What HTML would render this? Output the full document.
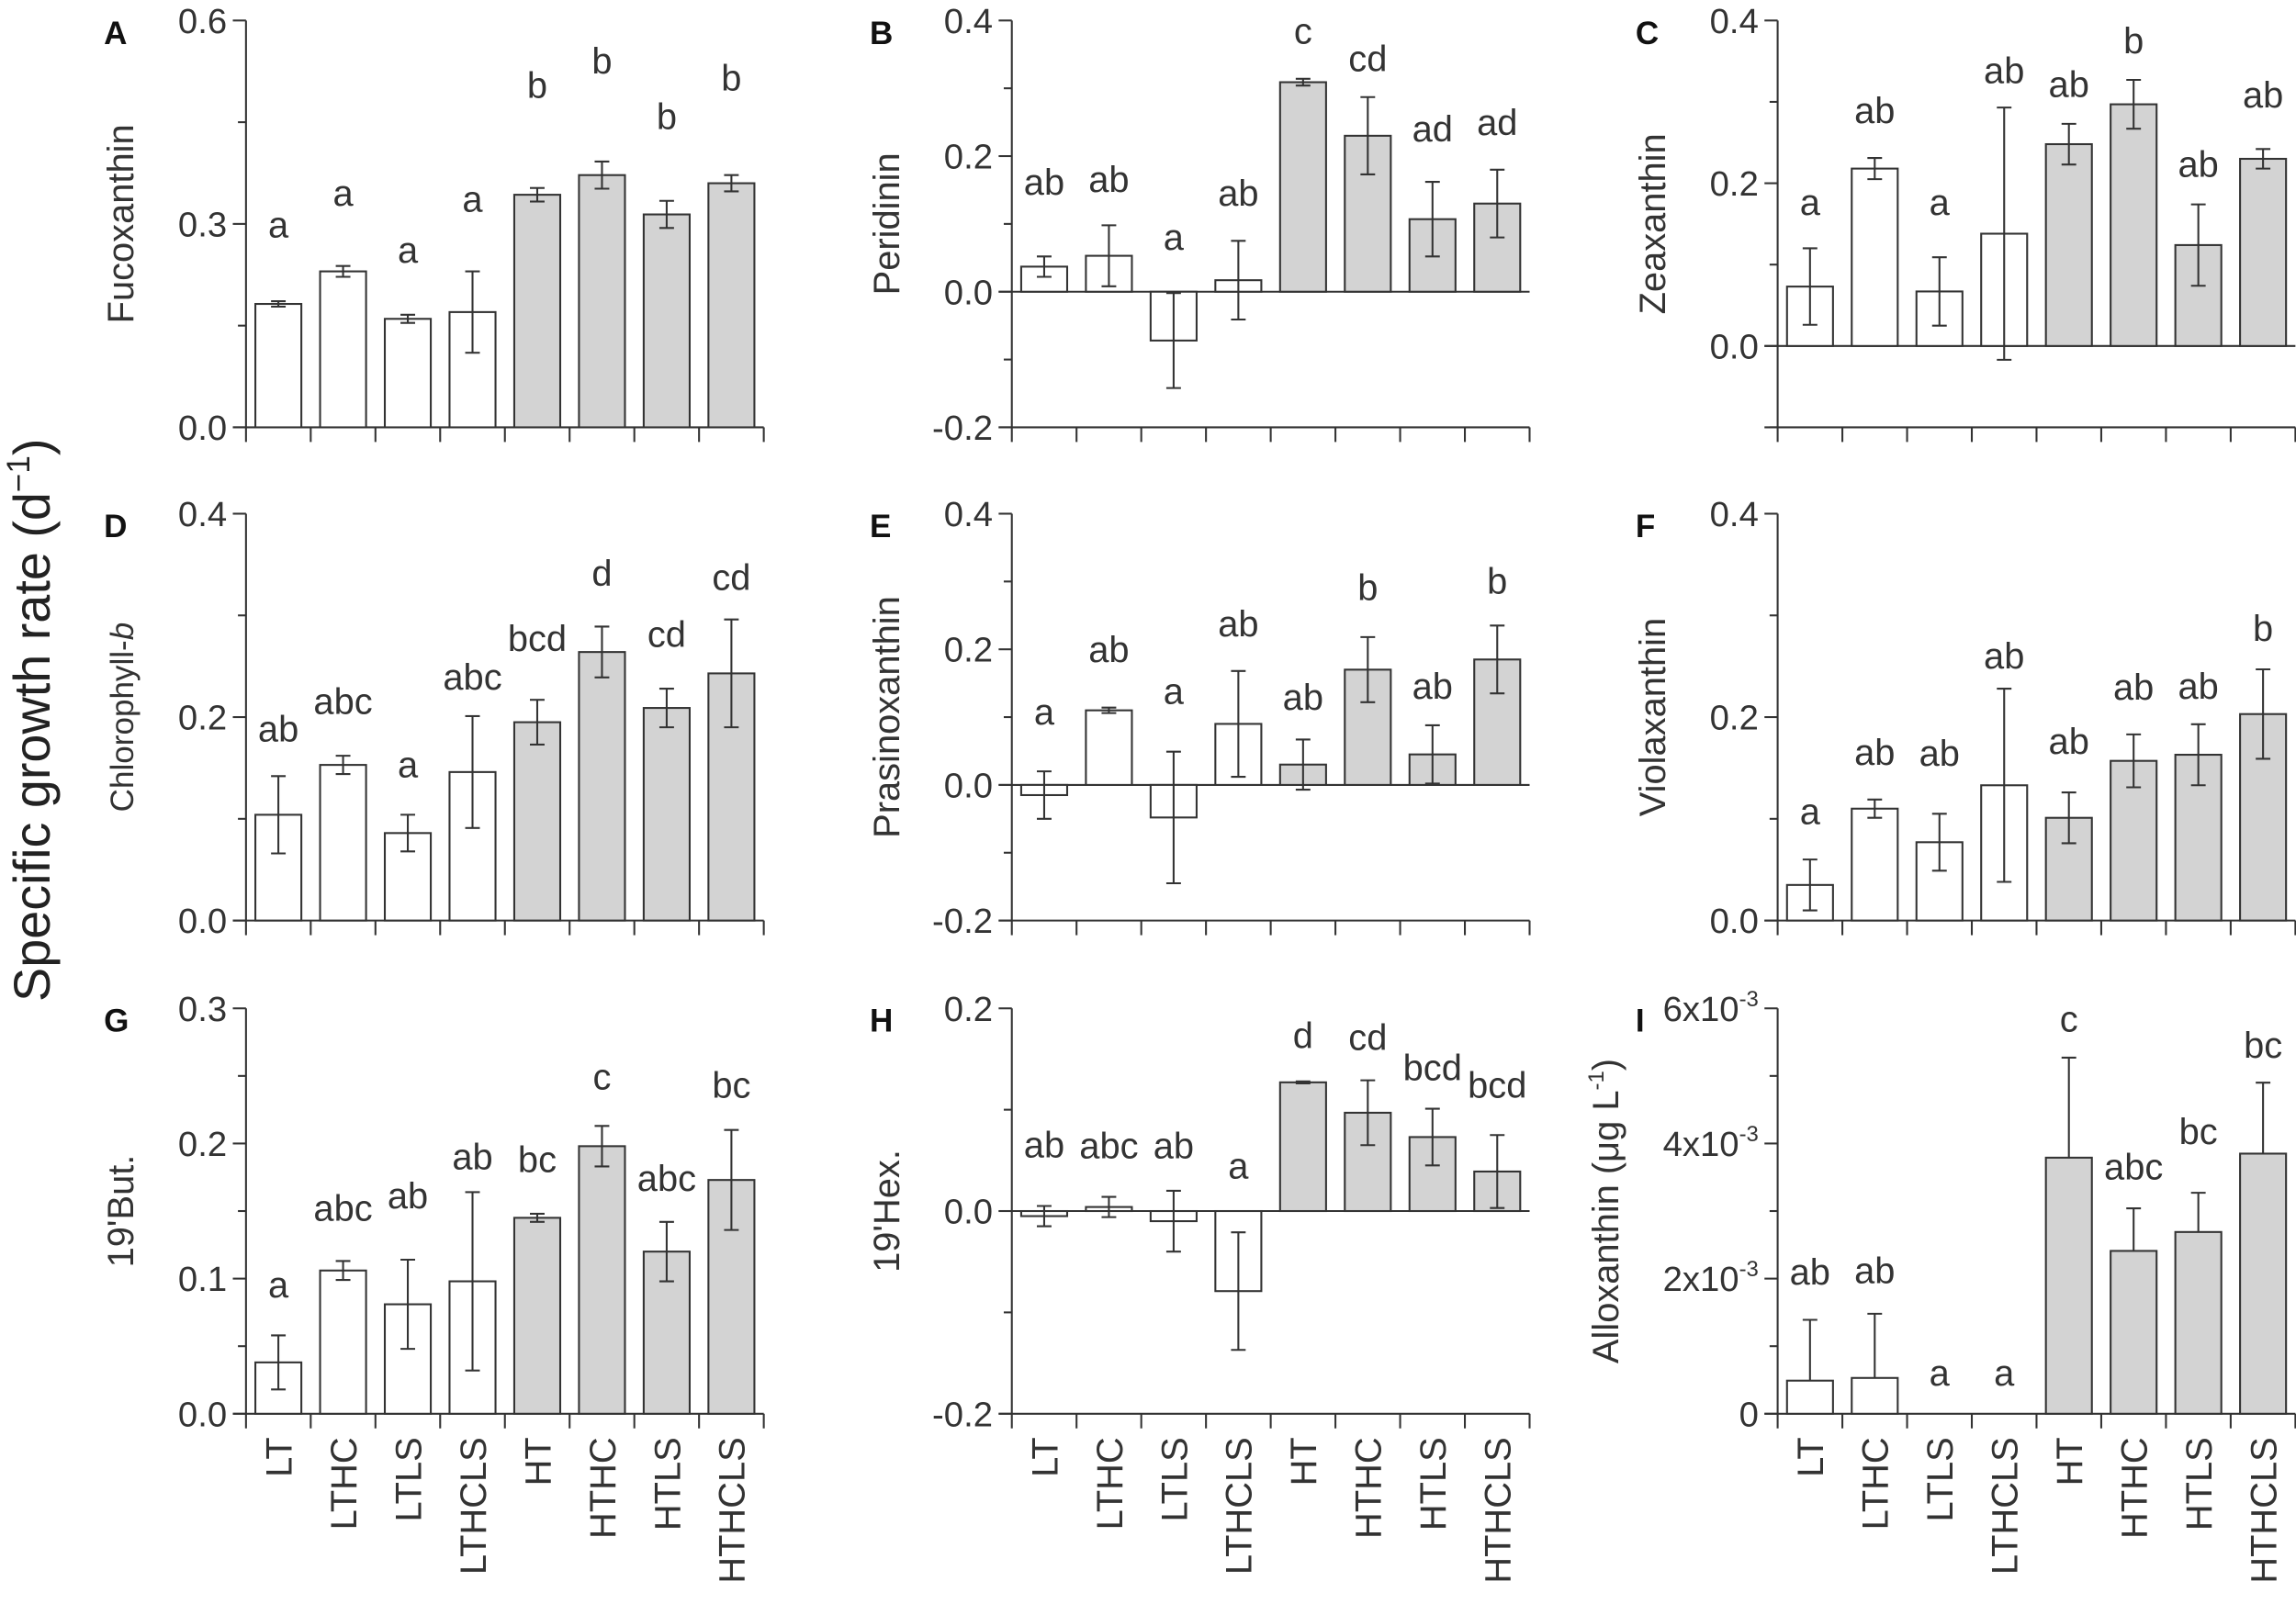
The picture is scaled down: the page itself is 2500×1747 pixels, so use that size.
<!DOCTYPE html>
<html><head><meta charset="utf-8"><style>
html,body{margin:0;padding:0;background:#fff;}
svg{display:block;font-family:"Liberation Sans",Arial,sans-serif;}
</style></head><body>
<svg id="fig" width="2500" height="1747" viewBox="0 0 1568 1096" preserveAspectRatio="none" xmlns="http://www.w3.org/2000/svg">
<rect x="0" y="0" width="1568" height="1096" fill="#fff"/>
<text transform="translate(34,492) rotate(-90)" text-anchor="middle" font-size="35" fill="#222">Specific growth rate (d<tspan font-size="22" dy="-14">−1</tspan><tspan dy="14">)</tspan></text>
</svg>
<script>
const categories = ["LT","LTHC","LTLS","LTHCLS","HT","HTHC","HTLS","HTHCLS"];
const fucoValues = [0.182,0.230,0.160,0.170,0.343,0.372,0.314,0.360];
const fucoErrors = [0.004,0.008,0.006,0.060,0.010,0.020,0.020,0.012];
const fucoLetters = ["a","a","a","a","b","b","b","b"];
const fucoLetterY = [0.280,0.327,0.243,0.318,0.486,0.522,0.440,0.497];
const periValues = [0.037,0.053,-0.072,0.017,0.309,0.230,0.107,0.130];
const periErrors = [0.015,0.045,0.070,0.058,0.005,0.057,0.055,0.050];
const periLetters = ["ab","ab","a","ab","c","cd","ad","ad"];
const periLetterY = [0.143,0.147,0.062,0.127,0.366,0.325,0.222,0.231];
const zeaValues = [0.073,0.218,0.067,0.138,0.248,0.297,0.124,0.230];
const zeaErrors = [0.047,0.013,0.042,0.155,0.025,0.030,0.050,0.012];
const zeaLetters = ["a","ab","a","ab","ab","b","ab","ab"];
const zeaLetterY = [0.161,0.274,0.161,0.323,0.306,0.360,0.208,0.293];
const chlbValues = [0.104,0.153,0.086,0.146,0.195,0.264,0.209,0.243];
const chlbErrors = [0.038,0.009,0.018,0.055,0.022,0.025,0.019,0.053];
const chlbLetters = ["ab","abc","a","abc","bcd","d","cd","cd"];
const chlbLetterY = [0.176,0.203,0.141,0.227,0.265,0.329,0.269,0.325];
const prasValues = [-0.015,0.110,-0.048,0.090,0.030,0.170,0.045,0.185];
const prasErrors = [0.035,0.004,0.097,0.078,0.037,0.048,0.043,0.050];
const prasLetters = ["a","ab","a","ab","ab","b","ab","b"];
const prasLetterY = [0.089,0.181,0.120,0.219,0.111,0.273,0.127,0.282];
const violValues = [0.035,0.110,0.077,0.133,0.101,0.157,0.163,0.203];
const violErrors = [0.025,0.009,0.028,0.095,0.025,0.026,0.030,0.044];
const violLetters = ["a","ab","ab","ab","ab","ab","ab","b"];
const violLetterY = [0.095,0.153,0.152,0.248,0.164,0.217,0.218,0.275];
const butValues = [0.038,0.106,0.081,0.098,0.145,0.198,0.120,0.173];
const butErrors = [0.020,0.007,0.033,0.066,0.003,0.015,0.022,0.037];
const butLetters = ["a","abc","ab","ab","bc","c","abc","bc"];
const butLetterY = [0.086,0.143,0.152,0.181,0.179,0.240,0.165,0.234];
const hexValues = [-0.005,0.004,-0.010,-0.079,0.127,0.097,0.073,0.039];
const hexErrors = [0.010,0.010,0.030,0.058,0.001,0.032,0.028,0.036];
const hexLetters = ["ab","abc","ab","a","d","cd","bcd","bcd"];
const hexLetterY = [0.053,0.052,0.052,0.032,0.161,0.159,0.129,0.112];
const alloValues = [0.49,0.53,0,0,3.79,2.41,2.69,3.85];
const alloErrors = [0.90,0.95,0,0,1.48,0.63,0.58,1.05];
const alloLetters = ["ab","ab","a","a","c","abc","bc","bc"];
const alloLetterY = [1.91,1.93,0.42,0.42,5.66,3.47,3.99,5.27];

const NS = "http://www.w3.org/2000/svg";
const svg = document.getElementById("fig");
const colX = [168, 691, 1214];
const rowTop = [14, 351, 689];
const rowBot = [292, 629, 966];
const catW = 44.2, barW = 31.4, INK = "#333";

const panels = [
 {key:"fucoxanthin",letter:"A",title:"Fucoxanthin",v:fucoValues,e:fucoErrors,l:fucoLetters,ly:fucoLetterY,min:0,max:0.6,major:[0,0.3,0.6],minor:[0.15,0.45],c:0,r:0},
 {key:"peridinin",letter:"B",title:"Peridinin",v:periValues,e:periErrors,l:periLetters,ly:periLetterY,min:-0.2,max:0.4,major:[-0.2,0,0.2,0.4],minor:[-0.1,0.1,0.3],c:1,r:0},
 {key:"zeaxanthin",letter:"C",title:"Zeaxanthin",v:zeaValues,e:zeaErrors,l:zeaLetters,ly:zeaLetterY,min:-0.1,max:0.4,major:[0,0.2,0.4],minor:[-0.1,0.1,0.3],c:2,r:0},
 {key:"chlorophyll-b",letter:"D",title:"Chlorophyll-",italic:"b",v:chlbValues,e:chlbErrors,l:chlbLetters,ly:chlbLetterY,min:0,max:0.4,major:[0,0.2,0.4],minor:[0.1,0.3],c:0,r:1,tfs:22},
 {key:"prasinoxanthin",letter:"E",title:"Prasinoxanthin",v:prasValues,e:prasErrors,l:prasLetters,ly:prasLetterY,min:-0.2,max:0.4,major:[-0.2,0,0.2,0.4],minor:[-0.1,0.1,0.3],c:1,r:1},
 {key:"violaxanthin",letter:"F",title:"Violaxanthin",v:violValues,e:violErrors,l:violLetters,ly:violLetterY,min:0,max:0.4,major:[0,0.2,0.4],minor:[0.1,0.3],c:2,r:1},
 {key:"19-but",letter:"G",title:"19'But.",v:butValues,e:butErrors,l:butLetters,ly:butLetterY,min:0,max:0.3,major:[0,0.1,0.2,0.3],minor:[0.05,0.15,0.25],c:0,r:2},
 {key:"19-hex",letter:"H",title:"19'Hex.",v:hexValues,e:hexErrors,l:hexLetters,ly:hexLetterY,min:-0.2,max:0.2,major:[-0.2,0,0.2],minor:[-0.1,0.1],c:1,r:2},
 {key:"alloxanthin",letter:"I",title:"Alloxanthin (μg L",sup:"-1",v:alloValues,e:alloErrors,l:alloLetters,ly:alloLetterY,min:0,max:6,major:[0,2,4,6],minor:[1,3,5],c:2,r:2,sci:true,tdx:109}
];

function mk(tag, attrs, parent){
  const el = document.createElementNS(NS, tag);
  for (const k in attrs) el.setAttribute(k, attrs[k]);
  (parent||svg).appendChild(el);
  return el;
}

panels.forEach(p => {
  const g = mk("g", {});
  
  
  const x0 = colX[p.c], top = rowTop[p.r], bot = rowBot[p.r];
  const y = v => bot - (v - p.min) / (p.max - p.min) * (bot - top);
  const xc = i => x0 + catW * (i + 0.5);
  const xEnd = x0 + catW * categories.length;

  const pl = mk("text", {x: x0 - 97, y: top + 16, "font-size": 22, "font-weight": "bold", fill: "#111"}, g);
  pl.textContent = p.letter;
  
  

  const tfs = p.tfs || 25;
  const tdx = p.tdx || 77;
  const yt = mk("text", {transform: `translate(${x0 - tdx},${(top + bot) / 2}) rotate(-90)`, "text-anchor": "middle", "font-size": tfs, fill: "#333"}, g);
  yt.textContent = p.title;
  if (p.italic) { const s = mk("tspan", {"font-style": "italic"}, yt); s.textContent = p.italic; }
  if (p.sup) {
    const s = mk("tspan", {"font-size": 15, dy: -10}, yt); s.textContent = p.sup;
    const s2 = mk("tspan", {dy: 10}, yt); s2.textContent = ")";
  }
  
  

  const ya = mk("line", {x1: x0, y1: top, x2: x0, y2: bot, stroke: INK, "stroke-width": 1.3}, g);
  
  
  p.major.forEach(v => {
    mk("line", {x1: x0 - 9, y1: y(v), x2: x0, y2: y(v), stroke: INK, "stroke-width": 1.3}, g);
    const t = mk("text", {x: x0 - 13, y: y(v) + 8.5, "text-anchor": "end", "font-size": 24, fill: "#333"}, g);
    if (p.sci) {
      if (v === 0) t.textContent = "0";
      else {
        t.textContent = v + "x10";
        const s = mk("tspan", {"font-size": 15, dy: -10}, t); s.textContent = "-3";
      }
    } else t.textContent = v.toFixed(1);
    
    
  });
  p.minor.forEach(v => mk("line", {x1: x0 - 5.5, y1: y(v), x2: x0, y2: y(v), stroke: INK, "stroke-width": 1.3}, g));

  const xa = mk("line", {x1: x0 - 9, y1: bot, x2: xEnd, y2: bot, stroke: INK, "stroke-width": 1.3}, g);
  
  
  for (let i = 0; i <= categories.length; i++) {
    mk("line", {x1: x0 + catW * i, y1: bot, x2: x0 + catW * i, y2: bot + 10, stroke: INK, "stroke-width": 1.3}, g);
  }
  if (p.min < 0) {
    const zl = mk("line", {x1: x0 - 9, y1: y(0), x2: xEnd, y2: y(0), stroke: INK, "stroke-width": 1.3}, g);
    
    
  }

  p.v.forEach((v, i) => {
    const yA = y(Math.max(v, 0)), yB = y(Math.min(v, 0));
    if (v !== 0) {
      const b = mk("rect", {x: xc(i) - barW / 2, y: yA, width: barW, height: Math.max(yB - yA, 0.5), fill: i < 4 ? "#fff" : "#d3d3d3", stroke: INK, "stroke-width": 1.3}, g);
      
      
    }
    const e = p.e[i];
    if (e > 0) {
      const eg = mk("g", {stroke: INK, "stroke-width": 1.3}, g);
      
      
      const lo = p.sci ? v : v - e;
      mk("line", {x1: xc(i), y1: y(v + e), x2: xc(i), y2: y(lo)}, eg);
      mk("line", {x1: xc(i) - 5, y1: y(v + e), x2: xc(i) + 5, y2: y(v + e)}, eg);
      if (!p.sci) mk("line", {x1: xc(i) - 5, y1: y(v - e), x2: xc(i) + 5, y2: y(v - e)}, eg);
    }
    const lt = mk("text", {x: xc(i), y: y(p.ly[i]), "text-anchor": "middle", "font-size": 25, fill: "#333"}, g);
    lt.textContent = p.l[i];
    
    

    if (p.r === 2) {
      const cl = mk("text", {transform: `translate(${xc(i) + 9},${bot + 16}) rotate(-90)`, "text-anchor": "end", "font-size": 25, fill: "#333"}, g);
      cl.textContent = categories[i];
      
      
    }
  });
});
</script>
</body></html>
